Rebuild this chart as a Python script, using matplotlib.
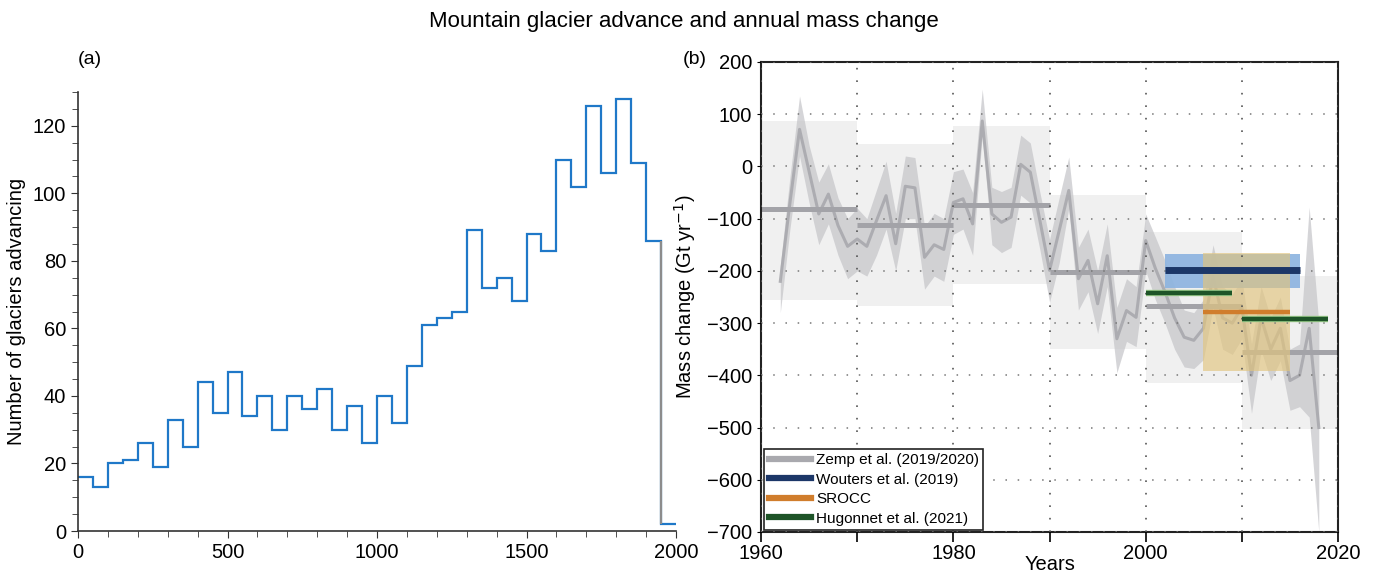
import matplotlib
matplotlib.use('Agg')
import matplotlib.pyplot as plt
import matplotlib.font_manager as fm
import matplotlib.patheffects as pe
from matplotlib.ticker import MultipleLocator

names = {f.name for f in fm.fontManager.ttflist}
base = 'Liberation Sans Narrow' if 'Liberation Sans Narrow' in names else 'Liberation Sans'
plt.rcParams['font.family'] = [base, 'DejaVu Sans']

# (a) glacier advances, 50-year bins
bin_edges = list(range(0, 2050, 50))
advancing = [16, 13, 20, 21, 26, 19, 33, 25, 44, 35, 47, 34, 40, 30, 40, 36, 42, 30, 37, 26,
             40, 32, 49, 61, 63, 65, 89, 72, 75, 68, 88, 83, 110, 102, 126, 106, 128, 109, 86, 2]

# (b) Zemp et al. annual mass change with uncertainty
years = list(range(1962, 2019))
zemp = [-220, -70, 71, -10, -91, -53, -113, -153, -139, -153, -104, -56, -148, -38, -41, -174,
        -150, -159, -69, -62, -110, 87, -91, -107, -97, 4, -11, -104, -199, -123, -46, -215,
        -180, -263, -171, -330, -276, -289, -142, -195, -240, -290, -327, -333, -310, -210,
        -290, -300, -270, -400, -290, -350, -310, -410, -400, -310, -500]
zemp_lo = [-280, -120, 20, -70, -150, -110, -170, -215, -200, -210, -170, -120, -200, -100, -100,
           -235, -210, -220, -130, -120, -170, 60, -150, -165, -155, -55, -70, -160, -260, -185,
           -80, -275, -240, -320, -230, -395, -335, -345, -200, -255, -300, -350, -384, -387,
           -370, -270, -350, -360, -330, -473, -352, -410, -372, -467, -460, -480, -700]
zemp_hi = [-190, -20, 135, 40, -30, 5, -60, -100, -80, -100, -45, 10, -90, 20, 17, -115, -90,
           -100, -10, -5, -50, 148, -40, -48, -40, 60, 45, -50, -140, -60, 18, -155, -120, -200,
           -110, -270, -215, -230, -91, -135, -180, -230, -275, -280, -255, -150, -230, -245,
           -215, -340, -230, -290, -250, -350, -340, -78, -300]

# decadal means
dec_start = [1960, 1970, 1980, 1990, 2000, 2010]
dec_end = [1970, 1980, 1990, 2000, 2010, 2020]
dec_mean = [-82, -112, -73, -203, -268, -356]
dec_lo = [-256, -268, -225, -350, -414, -502]
dec_hi = [87, 43, 77, -55, -125, -209]

# other estimates
wouters_period = (2002, 2016)
wouters = (-199, -232, -168)
srocc_period = (2006, 2015)
srocc = (-278, -392, -166)
hug_start = [2000, 2010]
hug_end = [2009, 2019]
hug_mean = [-243, -292]

fig = plt.figure(figsize=(13.78, 5.75), dpi=100)
fig.text(0.496, 0.962, 'Mountain glacier advance and annual mass change',
         ha='center', va='center', fontsize=16)
fig.text(0.065, 0.896, '(a)', ha='center', va='center', fontsize=14)
fig.text(0.504, 0.896, '(b)', ha='center', va='center', fontsize=14)

# ---- panel a
ax1 = fig.add_axes([0.0566, 0.0765, 0.434, 0.7635])
ax1.stairs(advancing, bin_edges, baseline=None, color='#1f78c8', lw=1.6)
ax1.vlines(bin_edges[-2], advancing[-1], advancing[-2], color='#8c8c8c', lw=1.6)
ax1.set_xlim(0, 2000)
ax1.set_ylim(0, 130)
ax1.spines['top'].set_visible(False)
ax1.spines['right'].set_visible(False)
for s in ('left', 'bottom'):
    ax1.spines[s].set_color('#333333')
    ax1.spines[s].set_linewidth(1.2)
ax1.xaxis.set_major_locator(MultipleLocator(500))
ax1.xaxis.set_minor_locator(MultipleLocator(100))
ax1.yaxis.set_major_locator(MultipleLocator(20))
ax1.yaxis.set_minor_locator(MultipleLocator(5))
ax1.tick_params(which='both', direction='out', color='#333333', labelsize=14.5)
ax1.tick_params(which='major', length=5)
ax1.tick_params(which='minor', length=4)
ax1.set_ylabel('Number of glaciers advancing', fontsize=14.5, labelpad=5)

# ---- panel b
ax2 = fig.add_axes([0.5523, 0.0748, 0.4187, 0.8174])
for s, e, lo, hi in zip(dec_start, dec_end, dec_lo, dec_hi):
    ax2.fill_between([s, e], [lo, lo], [hi, hi], color='#f0f0f0', lw=0, zorder=1)
ax2.fill_between(years, zemp_lo, zemp_hi, color='#c4c4c8', alpha=0.7, lw=0, zorder=1.2)
ax2.plot(years, zemp, color='#a6a6ab', alpha=0.85, lw=2.2, zorder=1.4)
for s, e, m in zip(dec_start, dec_end, dec_mean):
    ax2.plot([s, e], [m, m], color='#a3a3a8', lw=3.6, solid_capstyle='butt', zorder=1.6)

ax2.fill_between(wouters_period, [wouters[1]] * 2, [wouters[2]] * 2,
                 color='#8db4e0', alpha=0.92, lw=0, zorder=2)
ax2.fill_between(srocc_period, [srocc[1]] * 2, [srocc[2]] * 2,
                 color='#e2c57e', alpha=0.66, lw=0, zorder=2.1)
ax2.plot(wouters_period, [wouters[0]] * 2, color='#1c3768', lw=5, solid_capstyle='butt', zorder=3)
ax2.plot(srocc_period, [srocc[0]] * 2, color='#d07d2c', lw=3.2, solid_capstyle='butt', zorder=3)
for s, e, m in zip(hug_start, hug_end, hug_mean):
    ax2.plot([s, e], [m, m], color='#1e5428', lw=3.2, solid_capstyle='butt', zorder=3,
             path_effects=[pe.Stroke(linewidth=4.6, foreground='#9fd08f'), pe.Normal()])

ax2.set_xlim(1960, 2020)
ax2.set_ylim(-700, 200)
ax2.xaxis.set_major_locator(MultipleLocator(20))
ax2.xaxis.set_minor_locator(MultipleLocator(10))
ax2.yaxis.set_major_locator(MultipleLocator(100))
ax2.grid(True, which='both', axis='x', color='#555555', lw=1.2, linestyle=(0, (1, 6.5)))
ax2.grid(True, which='major', axis='y', color='#777777', lw=1.1, linestyle=(0, (1, 7)))
ax2.set_axisbelow(False)
for s in ax2.spines.values():
    s.set_linewidth(1.5)
    s.set_color('#222222')
ax2.tick_params(axis='x', which='both', direction='out', length=7, labelsize=14.5, width=1.2,
                pad=2)
ax2.tick_params(axis='y', direction='out', length=3, labelsize=14.5)
ax2.set_xlabel('Years', fontsize=14.5)
ax2.xaxis.set_label_coords(0.5, -0.07)
ax2.xaxis.label.set_va('center')
ax2.set_ylabel('Mass change (Gt yr$^{-1}$)', fontsize=14.5, labelpad=6)

handles = [plt.Line2D([], [], color='#a9a9ae', lw=4.5),
           plt.Line2D([], [], color='#1c3768', lw=4.5),
           plt.Line2D([], [], color='#d07d2c', lw=4.5),
           plt.Line2D([], [], color='#1e5428', lw=4.5)]
labels = ['Zemp et al. (2019/2020)', 'Wouters et al. (2019)', 'SROCC', 'Hugonnet et al. (2021)']
leg = ax2.legend(handles, labels, loc='lower left', bbox_to_anchor=(0.005, 0.004),
                 borderaxespad=0, fontsize=11, fancybox=False, framealpha=1,
                 edgecolor='#222222', handlelength=2.8, handletextpad=0.3,
                 labelspacing=0.35, borderpad=0.3)
leg.get_frame().set_linewidth(1.2)
leg.set_zorder(5)

fig.savefig('out.png', dpi=100)
